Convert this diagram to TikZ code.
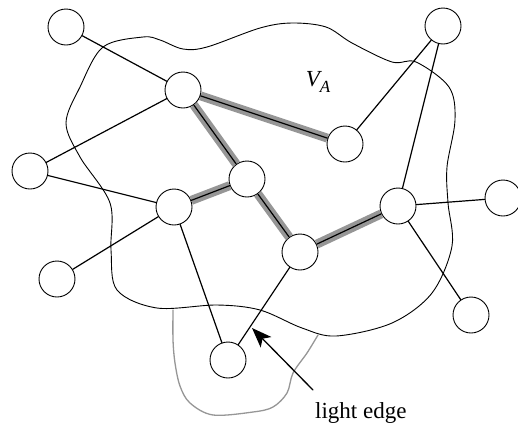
\documentclass[tikz,border=0pt]{standalone}
\usepackage{fontspec}
\setmainfont{Liberation Serif}
\usetikzlibrary{arrows.meta}
\definecolor{fg}{RGB}{0,0,0}
\definecolor{hl}{RGB}{150,150,150}
\definecolor{cut}{RGB}{150,150,150}
\tikzset{
  every picture/.style={fg, line cap=round, line join=round},
  every node/.style={font=\fontsize{23}{27}\selectfont},
  % Knoten und Kanten
  vtx/.style={circle, draw, fill=white, line width=0.9pt, minimum size=36pt, inner sep=0pt},
  edge/.style={line width=1.2pt},
  band/.style={hl, line width=9pt, line cap=butt},
  % Umrisse
  region/.style={line width=0.9pt},
  cutline/.style={cut, line width=1.3pt},
  pointer/.style={line width=1.3pt, -{Stealth[length=20pt,width=15pt,inset=5pt]}},
}
\begin{document}
\begin{tikzpicture}[x=1pt, y=-1pt]
  \useasboundingbox (0,0) rectangle (518,426);
  % ---------- Menge V_A ----------
  \draw[region] plot[smooth cycle, tension=0.55] coordinates {
    (143,37) (103,47) (80,87) (66,123) (80,157) (110,203) (111,250) (117,290)
    (157,308) (217,305) (260,310) (302,328) (336,336) (392,323) (432,293)
    (452,246) (448,203) (447,167) (455,120) (449,87) (416,62) (392,62)
    (352,43) (326,27) (292,23) (260,28) (207,47) (183,49) (160,40)};
  \draw[cutline] plot[smooth, tension=0.55] coordinates {
    (173,310) (173,340) (175,363) (180,386) (190,403) (213,415) (253,412)
    (273,407) (287,393) (293,373) (307,353) (318,335)};
  \node (va) at (318,82) {\itshape V\raisebox{-5.5pt}{\fontsize{17}{17}\selectfont A}};
  % ---------- Knoten ----------
  \foreach \n/\x/\y in {a/66/27, b/183/90, c/443/26, d/345/144, e/30/171,
      f/247/179, g/174/207, h/398/206, i/300/252, j/503/198, k/57/279,
      l/471/315, m/228/360}
    \node[vtx] (\n) at (\x,\y) {};
  % ---------- Kanten ----------
  \foreach \u/\v in {a/b, b/e, e/g, g/k, g/m, i/m, d/c, h/c, h/j, h/l}
    \draw[edge] (\u) -- (\v);
  % Baumkanten: grauer Streifen unter der Linie
  \foreach \u/\v in {b/d, b/f, g/f, f/i, i/h} {
    \draw[band] (\u) -- (\v);
    \draw[edge] (\u) -- (\v);
  }
  % ---------- leichte Kante ----------
  \node[anchor=base west, inner sep=0pt] (txt) at (315,418) {light edge};
  \coordinate (tip) at (252,328);
  \draw[pointer] (313,390) -- (tip);
\end{tikzpicture}
\end{document}
